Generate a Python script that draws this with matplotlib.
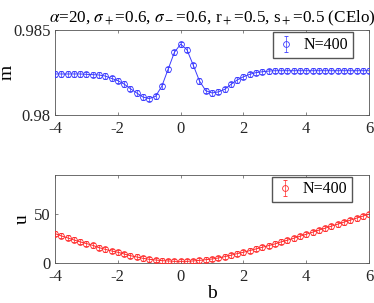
import numpy as np
import matplotlib
matplotlib.use("Agg")
import matplotlib.pyplot as plt

# ---- data ----
b_vals = [-4.0, -3.8, -3.6, -3.4, -3.2, -3.0, -2.8, -2.6, -2.4, -2.2,
          -2.0, -1.8, -1.6, -1.4, -1.2, -1.0, -0.8, -0.6, -0.4, -0.2,
          0.0, 0.2, 0.4, 0.6, 0.8, 1.0, 1.2, 1.4, 1.6, 1.8,
          2.0, 2.2, 2.4, 2.6, 2.8, 3.0, 3.2, 3.4, 3.6, 3.8,
          4.0, 4.2, 4.4, 4.6, 4.8, 5.0, 5.2, 5.4, 5.6, 5.8, 6.0]

m_vals = [0.98240, 0.98240, 0.98240, 0.98240, 0.98240, 0.98238, 0.98236, 0.98234, 0.98228, 0.98214,
          0.98201, 0.98181, 0.98154, 0.98129, 0.98105, 0.98096, 0.98109, 0.98168, 0.98267, 0.98366,
          0.98415, 0.98382, 0.98292, 0.98199, 0.98142, 0.98129, 0.98135, 0.98150, 0.98179, 0.98205,
          0.98224, 0.98238, 0.98248, 0.98253, 0.98257, 0.98259, 0.98259, 0.98259, 0.98259, 0.98259,
          0.98259, 0.98259, 0.98259, 0.98259, 0.98259, 0.98259, 0.98259, 0.98259, 0.98259, 0.98259, 0.98259]
m_err = 0.00015

u_vals = [30.1, 27.7, 25.7, 23.6, 21.6, 19.9, 18.1, 15.7, 14.0, 12.3,
          11.0, 9.2, 7.5, 6.2, 4.8, 3.8, 3.1, 2.4, 2.1, 1.7,
          1.7, 1.7, 2.1, 2.7, 3.4, 4.1, 5.1, 6.5, 7.9, 9.6,
          11.0, 12.7, 14.4, 16.1, 17.8, 19.5, 21.6, 23.3, 25.3, 27.4,
          29.4, 31.5, 33.6, 35.6, 37.7, 39.7, 41.8, 43.8, 45.9, 47.9, 50.0]
u_err = 2.5

x_ticks = [-4, -2, 0, 2, 4, 6]
m_ticks = [0.98, 0.985]
u_ticks = [0, 50]

TITLE = (r"$\alpha$=20, $\sigma_+$=0.6, $\sigma_-$=0.6, r$_+$=0.5, "
         r"s$_+$=0.5 (CElo)")

# ---- style ----
plt.rcParams.update({
    "font.family": "Liberation Serif",
    "mathtext.fontset": "stix",
    "font.size": 12,
    "axes.edgecolor": "#555555",
    "axes.linewidth": 0.6,
    "xtick.color": "#555555",
    "ytick.color": "#555555",
    "xtick.labelcolor": "#262626",
    "ytick.labelcolor": "#262626",
    "xtick.direction": "in",
    "ytick.direction": "in",
    "xtick.top": True,
    "ytick.right": True,
    "xtick.major.size": 2.5,
    "ytick.major.size": 2.5,
    "xtick.major.width": 0.5,
    "ytick.major.width": 0.5,
    "xtick.major.pad": 4,
    "ytick.major.pad": 3,
    "legend.fontsize": 11.5,
})

BLUE = "#3a3aff"
RED = "#ff2a2a"

fig = plt.figure(figsize=(3.74, 3.03), dpi=100)
ax1 = fig.add_axes([0.147, 0.6205, 0.840, 0.282])
ax2 = fig.add_axes([0.147, 0.132, 0.840, 0.2905])

# top panel: m
ax1.plot(b_vals, m_vals, "-", color=BLUE, lw=0.7, zorder=2)
ax1.errorbar(b_vals, m_vals, yerr=m_err, fmt="o", ms=4.2, mfc="none",
             mec=BLUE, mew=0.6, ecolor=BLUE, elinewidth=0.5, capsize=1.5,
             capthick=0.5, label="N=400", zorder=3)
ax1.set_xlim(-4, 6)
ax1.set_ylim(0.98, 0.985)
ax1.set_xticks(x_ticks)
ax1.set_xticklabels([str(t) for t in x_ticks])
ax1.set_yticks(m_ticks)
ax1.set_yticklabels(["0.98", "0.985"])
ax1.set_ylabel("m", fontsize=14)
ax1.yaxis.set_label_coords(-0.125, 0.5)
ax1.set_title(TITLE, fontsize=12.3, pad=5)
ax1.legend(loc="upper right", bbox_to_anchor=(0.948, 0.967), fancybox=False,
           edgecolor="#555555", framealpha=1, handlelength=1.0,
           handletextpad=0.6, borderpad=0.3, borderaxespad=0)

# bottom panel: u
ax2.plot(b_vals, u_vals, "-", color=RED, lw=0.7, zorder=2)
ax2.errorbar(b_vals, u_vals, yerr=u_err, fmt="o", ms=4.2, mfc="none",
             mec=RED, mew=0.6, ecolor=RED, elinewidth=0.5, capsize=1.5,
             capthick=0.5, label="N=400", zorder=3)
ax2.set_xlim(-4, 6)
ax2.set_ylim(0, 90)
ax2.set_xticks(x_ticks)
ax2.set_xticklabels([str(t) for t in x_ticks])
ax2.set_yticks(u_ticks)
ax2.set_ylabel("u", fontsize=14)
ax2.yaxis.set_label_coords(-0.078, 0.5)
ax2.set_xlabel("b", fontsize=14, labelpad=0)
ax2.legend(loc="upper right", bbox_to_anchor=(0.946, 0.981), fancybox=False,
           edgecolor="#555555", framealpha=1, handlelength=1.0,
           handletextpad=0.6, borderpad=0.3, borderaxespad=0)

fig.savefig("out.png", dpi=100)
